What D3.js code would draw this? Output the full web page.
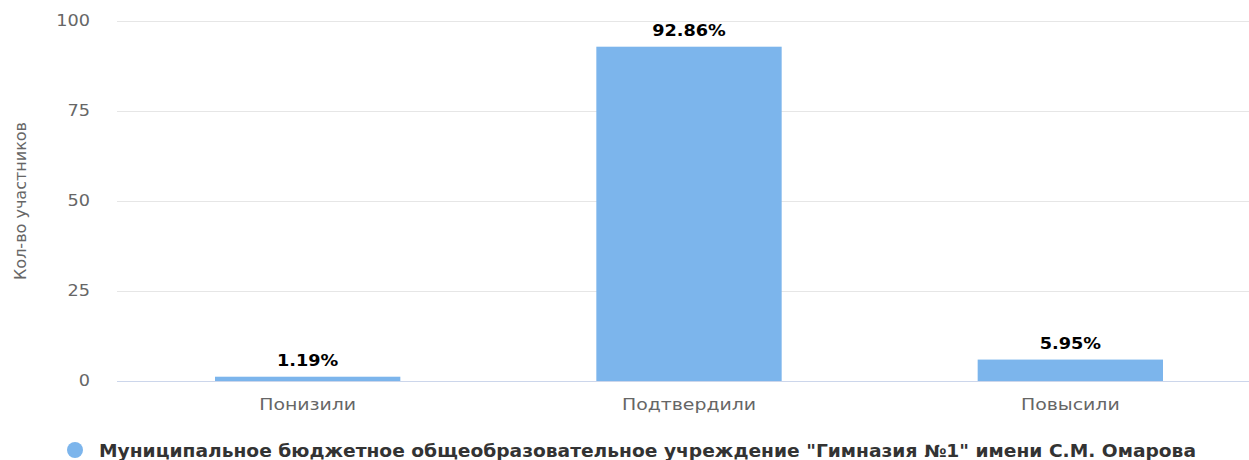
<!DOCTYPE html>
<meta charset="utf-8">
<style>
    body { margin: 0; background: #fff; overflow: hidden; }
    svg text { font-family: "DejaVu Sans", sans-serif; }
    .grid line { stroke: #e6e6e6; stroke-width: 1px; }
    .tick-label { fill: #666; font-size: 15px; }
    .data-label { fill: #000; font-size: 15px; font-weight: bold; }
</style>
<body>
<script src="https://d3js.org/d3.v7.min.js"></script>
<script>

const categories = ["Понизили", "Подтвердили", "Повысили"];
const values = [1.19, 92.86, 5.95];
const yTicks = [0, 25, 50, 75, 100];
const seriesName = "Муниципальное бюджетное общеобразовательное учреждение \"Гимназия №1\" имени С.М. Омарова";
const yTitle = "Кол-во участников";

const width = 1249;
const height = 460;
const stretch = 1.18; // the reference text is drawn a bit wider than normal

const svg = d3.select("body").append("svg")
    .attr("width", width)
    .attr("height", height);

const x = d3.scaleBand()
    .domain(categories)
    .range([117, 1261])
    .paddingInner(0.514)
    .paddingOuter(0.257);

const y = d3.scaleLinear()
    .domain([0, 100])
    .range([381, 21]);

const place = (px, py) => `translate(${px},${py}) scale(${stretch},1)`;

// gridlines
svg.append("g").attr("class", "grid")
    .selectAll("line")
    .data(yTicks.filter(d => d > 0))
    .enter().append("line")
    .attr("x1", 117).attr("x2", width)
    .attr("y1", d => y(d) + 0.5).attr("y2", d => y(d) + 0.5);

// y tick labels
svg.selectAll(".ylab")
    .data(yTicks)
    .enter().append("text")
    .attr("class", "tick-label")
    .attr("transform", d => place(90, y(d) + 5))
    .attr("text-anchor", "end")
    .text(d => d);

// y title
svg.append("text")
    .attr("class", "tick-label")
    .attr("transform", "translate(26,201) rotate(-90)")
    .attr("text-anchor", "middle")
    .style("font-size", "16px")
    .text(yTitle);

// bars
svg.selectAll(".bar")
    .data(values)
    .enter().append("rect")
    .attr("class", "bar")
    .attr("x", (d, i) => x(categories[i]))
    .attr("width", x.bandwidth())
    .attr("y", d => y(d))
    .attr("height", d => y(0) - y(d))
    .attr("fill", "#7cb5ec");

// x axis line
svg.append("line")
    .attr("x1", 117).attr("x2", width)
    .attr("y1", y(0) + 0.5).attr("y2", y(0) + 0.5)
    .attr("stroke", "#ccd6eb");

// x labels
svg.selectAll(".xlab")
    .data(categories)
    .enter().append("text")
    .attr("class", "tick-label")
    .attr("transform", d => place(x(d) + x.bandwidth() / 2, 410))
    .attr("text-anchor", "middle")
    .style("font-size", "16px")
    .text(d => d);

// data labels
svg.selectAll(".data-label")
    .data(values)
    .enter().append("text")
    .attr("class", "data-label")
    .attr("transform", (d, i) => place(x(categories[i]) + x.bandwidth() / 2, y(d) - 11))
    .attr("text-anchor", "middle")
    .attr("stroke", "#fff")
    .attr("stroke-width", 3)
    .attr("paint-order", "stroke")
    .text(d => d.toFixed(2) + "%");

// legend
svg.append("circle")
    .attr("cx", 75).attr("cy", 450).attr("r", 8)
    .attr("fill", "#7cb5ec");

svg.append("text")
    .attr("x", 99)
    .attr("y", 457)
    .attr("fill", "#333")
    .style("font-size", "17px")
    .style("font-weight", "bold")
    .attr("textLength", 1097)
    .attr("lengthAdjust", "spacingAndGlyphs")
    .text(seriesName);

</script>
</body>
</html>
